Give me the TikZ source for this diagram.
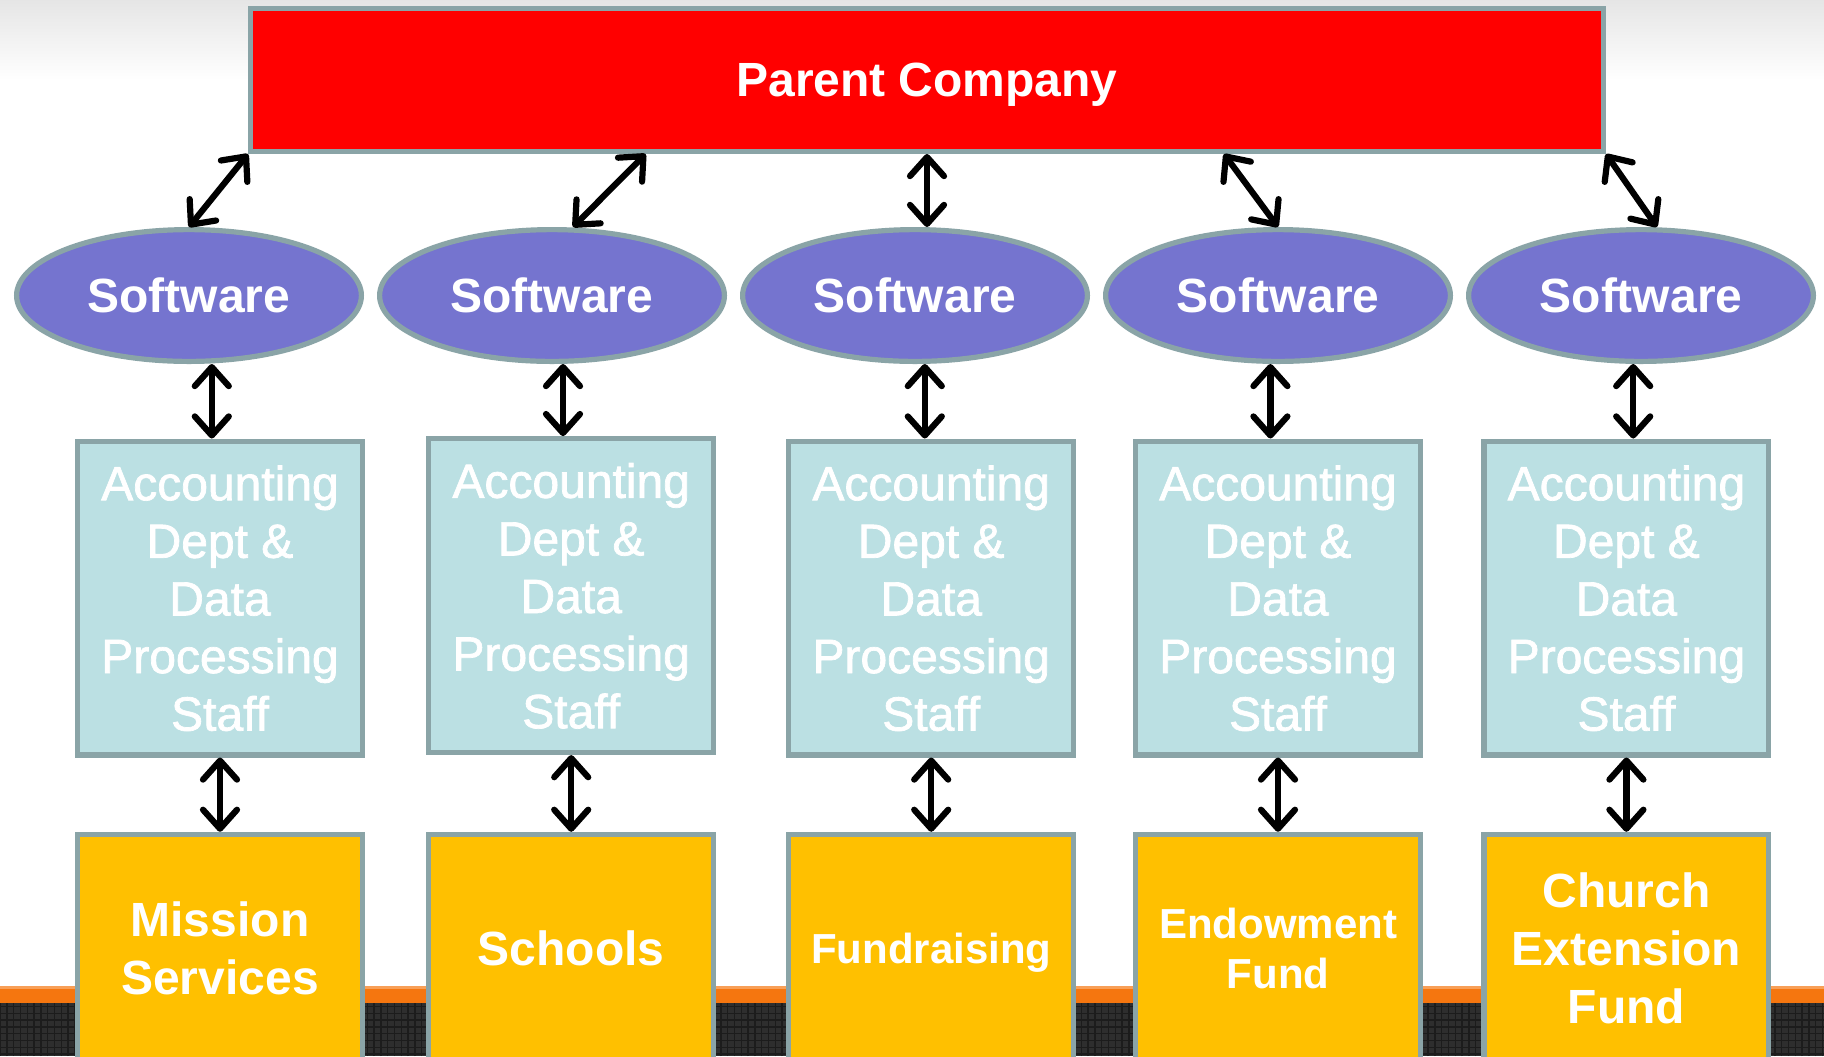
\documentclass[tikz,border=0pt]{standalone}
\usepackage{fontspec}
\setmainfont{Liberation Sans}
\usetikzlibrary{shapes.geometric,arrows.meta}
\definecolor{redc}{HTML}{FF0000}
\definecolor{bordc}{HTML}{8AA4A7}
\definecolor{softc}{HTML}{7574CF}
\definecolor{accc}{HTML}{BBE0E3}
\definecolor{yelc}{HTML}{FFC000}
\definecolor{orangec}{HTML}{F5760F}
\definecolor{darkc}{HTML}{2E2E2E}
\definecolor{gridc}{HTML}{1C1C1C}
\begin{document}
\begin{tikzpicture}[x=1pt,y=-1pt,
  bord/.style={draw=bordc, line width=2.6pt, text=white, text depth=0pt, inner sep=0pt},
  parentbox/.style={bord, fill=redc, minimum width=676.4pt, minimum height=71.4pt,
    font=\bfseries\fontsize{24}{29}\selectfont},
  softw/.style={bord, ellipse, fill=softc, minimum width=172.4pt, minimum height=65.9pt,
    font=\bfseries\fontsize{24}{29}\selectfont},
  accbox/.style={bord, fill=accc, minimum width=142.4pt, minimum height=156.9pt,
    align=center, font=\fontsize{24}{28.8}\selectfont\addfontfeature{FakeBold=1.5}},
  unitbox/.style={bord, fill=yelc, minimum width=142.4pt, minimum height=113.6pt,
    align=center, font=\bfseries\fontsize{24}{29}\selectfont},
  unitsmall/.style={unitbox, font=\bfseries\fontsize{21}{25}\selectfont},
  arr/.style={line width=3.1pt, line cap=round,
    {Straight Barb[length=9.5pt,width=17pt,round]}-{Straight Barb[length=9.5pt,width=17pt,round]}}
]
\useasboundingbox (0,0) rectangle (912,528);
% background
\fill[white] (0,0) rectangle (912,528);
\shade[top color=black!10, bottom color=white] (0,0) rectangle (912,40);
\fill[orangec] (0,493) rectangle (912,501.5);
\fill[orangec!70!white] (0,493) rectangle (912,494.5);
\fill[darkc] (0,501.5) rectangle (912,528);
\draw[gridc, line width=0.7pt, step=3.4pt] (0,501.5) grid (912,528);

% parent
\node[parentbox] (par) at (463.5,40) {Parent Company};

% software
\node[softw] (s1) at (94.5,147.75) {Software};
\node[softw] (s2) at (276,147.75) {Software};
\node[softw] (s3) at (457.5,147.75) {Software};
\node[softw] (s4) at (639,147.75) {Software};
\node[softw] (s5) at (820.5,147.75) {Software};

% accounting
\node[accbox] (a1) at (110,299) {Accounting\\Dept \&\\Data\\Processing\\Staff};
\node[accbox] (a2) at (285.6,297.8) {Accounting\\Dept \&\\Data\\Processing\\Staff};
\node[accbox] (a3) at (465.6,299) {Accounting\\Dept \&\\Data\\Processing\\Staff};
\node[accbox] (a4) at (639,299) {Accounting\\Dept \&\\Data\\Processing\\Staff};
\node[accbox] (a5) at (813.2,299) {Accounting\\Dept \&\\Data\\Processing\\Staff};

% units
\node[unitbox] (u1) at (110,474) {Mission\\Services};
\node[unitbox] (u2) at (285.6,474) {Schools};
\node[unitsmall] (u3) at (465.6,474) {Fundraising};
\node[unitsmall] (u4) at (639,474) {Endowment\\Fund};
\node[unitbox] (u5) at (813.2,474) {Church\\Extension\\Fund};

% arrows parent - software
\draw[arr] (par.south west) -- (s1.north);
\draw[arr] ([xshift=-140.7pt]par.south) -- ([xshift=10.5pt]s2.north);
\draw[arr] (par.south) -- ([xshift=6pt]s3.north);
\draw[arr] ([xshift=148.5pt]par.south) -- (s4.north);
\draw[arr] (par.south east) -- ([xshift=8pt]s5.north);

% arrows software - accounting
\draw[arr] ([xshift=-4.1pt]a1.north) -- ([xshift=-4.1pt]a1.north |- s1.south);
\draw[arr] ([xshift=-4.1pt]a2.north) -- ([xshift=-4.1pt]a2.north |- s2.south);
\draw[arr] ([xshift=-3.2pt]a3.north) -- ([xshift=-3.2pt]a3.north |- s3.south);
\draw[arr] ([xshift=-3.8pt]a4.north) -- ([xshift=-3.8pt]a4.north |- s4.south);
\draw[arr] ([xshift=3.4pt]a5.north) -- ([xshift=3.4pt]a5.north |- s5.south);

% arrows accounting - units
\draw[arr] (a1.south) -- (a1.south |- u1.north);
\draw[arr] (a2.south) -- (a2.south |- u2.north);
\draw[arr] (a3.south) -- (a3.south |- u3.north);
\draw[arr] (a4.south) -- (a4.south |- u4.north);
\draw[arr] (a5.south) -- (a5.south |- u5.north);
\end{tikzpicture}
\end{document}
